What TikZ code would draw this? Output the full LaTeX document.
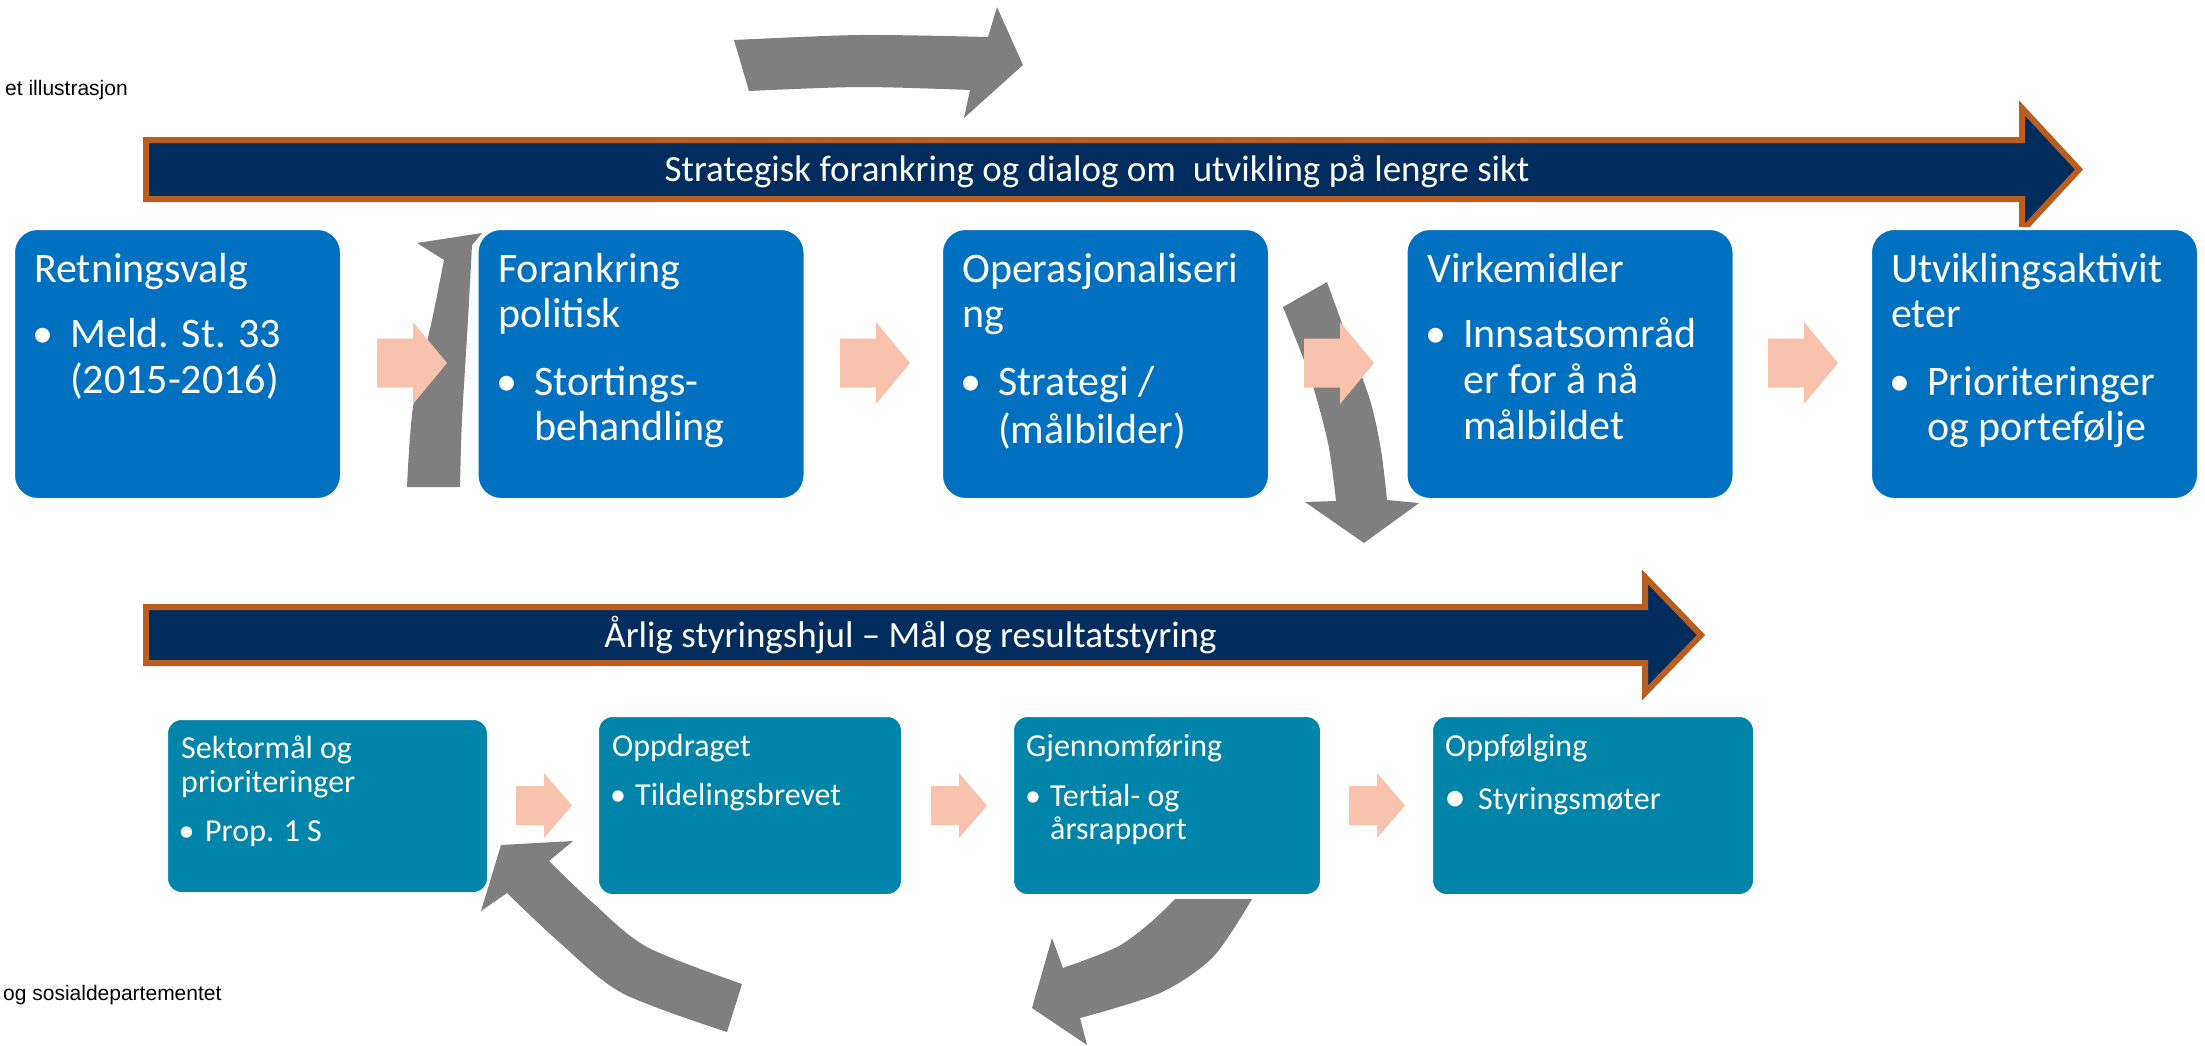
\documentclass[tikz,border=0pt]{standalone}
\usepackage{fontspec}
\setmainfont{Carlito}
\newfontfamily\arialf{Liberation Sans}
\definecolor{boxblue}{HTML}{0070C0}
\definecolor{boxteal}{HTML}{0084A9}
\definecolor{navyc}{HTML}{002D5E}
\definecolor{orangec}{HTML}{B95E1F}
\definecolor{pinkc}{HTML}{F8C2AD}
\definecolor{grayc}{HTML}{7F7F7F}
\tikzset{
  topbox/.style={draw=white, line width=3pt, fill=boxblue, rounded corners=24pt, inner sep=0pt, minimum height=271pt},
  botbox/.style={draw=white, line width=3pt, fill=boxteal, rounded corners=15pt, inner sep=0pt},
  banner/.style={fill=navyc, draw=orangec, line width=6pt, miter limit=10},
  bantext/.style={text=white, inner sep=0pt, anchor=base, font=\fontsize{37}{40}\selectfont},
  bigt/.style={text=white, inner sep=0pt, anchor=base west, font=\fontsize{42}{45}\selectfont},
  bigb/.style={text=white, inner sep=0pt, anchor=base, font=\fontsize{42}{45}\selectfont},
  smallt/.style={text=white, inner sep=0pt, anchor=base west, font=\fontsize{32}{34}\selectfont},
  smallb/.style={text=white, inner sep=0pt, anchor=base, font=\fontsize{32}{34}\selectfont},
  sidetext/.style={text=black, inner sep=0pt, font=\arialf\fontsize{21}{24}\selectfont},
  pinktop/.pic={\fill[pinkc] (0,-24.5) -- (36,-24.5) -- (36,-41) -- (70,0) -- (36,41) -- (36,24.5) -- (0,24.5) -- cycle;},
  pinkbot/.pic={\fill[pinkc] (0,-19.5) -- (28,-19.5) -- (28,-32.5) -- (56,0) -- (28,32.5) -- (28,19.5) -- (0,19.5) -- cycle;}
}
\begin{document}
\begin{tikzpicture}[x=1pt,y=-1pt]
\useasboundingbox (0,0) rectangle (2205,1045);
\clip (0,0) rectangle (2205,1045);

% grey cycle arrows
\fill[grayc] (734,40) -- plot[smooth] coordinates {(734,40) (860,35) (988,37)} -- (997,7) -- (1023,65) -- (964,118) -- (970,90) -- plot[smooth] coordinates {(970,90) (860,87) (749,91)} -- cycle;
\fill[grayc] (407,487) -- plot[smooth] coordinates {(407,487) (413,407) (432,320) (444,260)} -- (417,243) -- (482,233) -- (472,245) -- plot[smooth] coordinates {(472,245) (468,320) (462,420) (460,487)} -- cycle;
\fill[grayc] (1283,307) -- (1327,282) -- plot[smooth] coordinates {(1327,282) (1347,337) (1370,400) (1381,450) (1387,500)} -- (1419,503) -- (1364,543) -- (1305,502) -- (1336,501) -- plot[smooth] coordinates {(1336,501) (1328,443) (1310,377) (1283,307)} -- cycle;
\fill[grayc] (501,845) -- (573,841) -- (549,861) -- plot[smooth] coordinates {(549,861) (593,903) (647,947) (742,984)} -- (727,1032) -- plot[smooth] coordinates {(727,1032) (622,993) (559,942) (507,893)} -- (481,911) -- cycle;
\fill[grayc] (1175,899) -- (1252,899) -- plot[smooth] coordinates {(1252,899) (1213,957) (1160,993) (1080,1018)} -- (1087,1045) -- (1032,1008) -- (1052,938) -- (1063,968) -- plot[smooth] coordinates {(1063,968) (1117,947) (1150,923) (1175,899)} -- cycle;

% banners
\path[banner] (146,140) -- (2022,140) -- (2022,108) -- (2079,169.5) -- (2022,231) -- (2022,199) -- (146,199) -- cycle;
\node[bantext] (ban1) at (1097,181.5) {Strategisk forankring og dialog om\ \ utvikling på lengre sikt};
\path[banner] (146,607) -- (1645,607) -- (1645,577) -- (1701,635) -- (1645,693) -- (1645,663) -- (146,663) -- cycle;
\node[bantext] (ban2) at (910.5,647) {Årlig styringshjul – Mål og resultatstyring};

% top boxes
\node[topbox, minimum width=328pt] (b1) at (177.5,364) {};
\node[topbox, minimum width=328pt] (b2) at (641,364) {};
\node[topbox, minimum width=328pt] (b3) at (1105.5,364) {};
\node[topbox, minimum width=328pt] (b4) at (1570,364) {};
\node[topbox, minimum width=328pt] (b5) at (2034.5,364) {};

% bottom boxes
\node[botbox, minimum width=322pt, minimum height=175pt] (c1) at (327.5,806) {};
\node[botbox, minimum width=305pt, minimum height=180pt] (c2) at (750,805.5) {};
\node[botbox, minimum width=309pt, minimum height=180pt] (c3) at (1167,805.5) {};
\node[botbox, minimum width=323pt, minimum height=180pt] (c4) at (1593,805.5) {};

% pink arrows
\pic at (377,363) {pinktop};
\pic at (840,363) {pinktop};
\pic at (1304,363) {pinktop};
\pic at (1768,363) {pinktop};
\pic at (516,805.5) {pinkbot};
\pic at (931,805.5) {pinkbot};
\pic at (1349,805.5) {pinkbot};

% top box texts
\node[bigt] (t1a) at (34,282) {Retningsvalg};
\node[bigb] (t1b) at (43,347) {•};
\node[bigt] (t1c) at (70,347) {Meld. St. 33};
\node[bigt] (t1d) at (70,393) {(2015-2016)};

\node[bigt] (t2a) at (498,282) {Forankring};
\node[bigt] (t2b) at (498,327) {politisk};
\node[bigb] (t2c) at (507,395) {•};
\node[bigt] (t2d) at (534,395) {Stortings-};
\node[bigt] (t2e) at (534,440) {behandling};

\node[bigt] (t3a) at (962,282) {Operasjonaliseri};
\node[bigt] (t3b) at (962,327) {ng};
\node[bigb] (t3c) at (971,395) {•};
\node[bigt] (t3d) at (998,395) {Strategi /};
\node[bigt] (t3e) at (998,443) {(målbilder)};

\node[bigt] (t4a) at (1427,282) {Virkemidler};
\node[bigb] (t4b) at (1436,347) {•};
\node[bigt] (t4c) at (1463,347) {Innsatsområd};
\node[bigt] (t4d) at (1463,393) {er for å nå};
\node[bigt] (t4e) at (1463,439) {målbildet};

\node[bigt] (t5a) at (1891,282) {Utviklingsaktivit};
\node[bigt] (t5b) at (1891,327) {eter};
\node[bigb] (t5c) at (1900,395) {•};
\node[bigt] (t5d) at (1927,395) {Prioriteringer};
\node[bigt] (t5e) at (1927,440) {og portefølje};

% bottom box texts
\node[smallt] (s1a) at (181,758) {Sektormål og};
\node[smallt] (s1b) at (181,792) {prioriteringer};
\node[smallb] (s1c) at (186.5,841) {•};
\node[smallt] (s1d) at (205,841) {Prop. 1 S};

\node[smallt] (s2a) at (612,756) {Oppdraget};
\node[smallb] (s2b) at (618,805) {•};
\node[smallt] (s2c) at (635,805) {Tildelingsbrevet};

\node[smallt] (s3a) at (1026,756) {Gjennomføring};
\node[smallb] (s3b) at (1033,806) {•};
\node[smallt] (s3c) at (1050,806) {Tertial- og};
\node[smallt] (s3d) at (1050,839) {årsrapport};

\node[smallt] (s4a) at (1445,756) {Oppfølging};
\node[smallb, font=\fontsize{44}{44}\selectfont] (s4b) at (1455,811) {•};
\node[smallt] (s4c) at (1478,809) {Styringsmøter};

% side texts
\node[sidetext, anchor=base east] (side1) at (128,95) {et illustrasjon};
\node[sidetext, anchor=base west] (side2) at (3,1000) {og sosialdepartementet};
\end{tikzpicture}
\end{document}
